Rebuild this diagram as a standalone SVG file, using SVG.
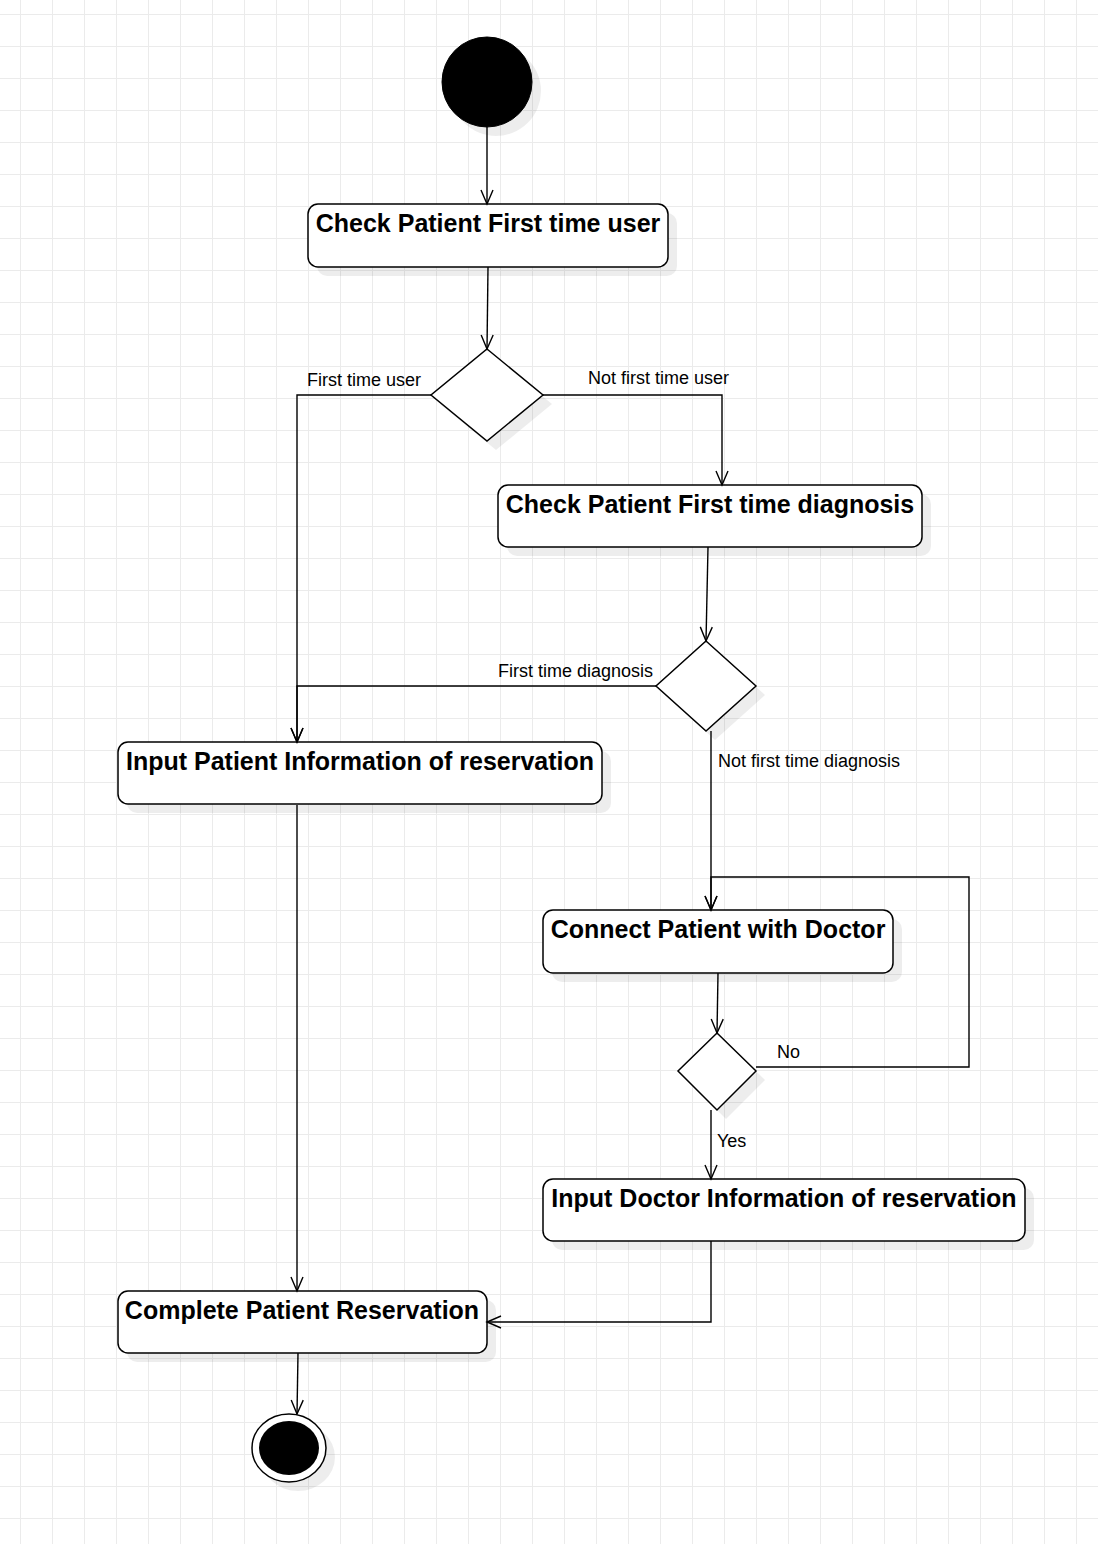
<svg xmlns="http://www.w3.org/2000/svg" width="1098" height="1544" viewBox="0 0 1098 1544">
<defs>
<pattern id="grid" x="20" y="14" width="32" height="32" patternUnits="userSpaceOnUse">
<path d="M0.5,0 L0.5,32 M0,0.5 L32,0.5" fill="none" stroke="#ebebeb" stroke-width="1"/>
</pattern>
<marker id="arr" markerUnits="userSpaceOnUse" markerWidth="24" markerHeight="24" viewBox="-16 -12 24 24" refX="0" refY="0" orient="auto" overflow="visible">
<path d="M-14,-6 L0,0 L-14,6" fill="none" stroke="#000" stroke-width="1.4"/>
</marker>
<style>
.node{fill:#fff;stroke:#000;stroke-width:1.5}
.shadow{fill:#000;fill-opacity:0.07;stroke:none}
.title{font-family:"Liberation Sans",Arial,sans-serif;font-size:25px;font-weight:bold;fill:#000;text-anchor:middle}
.lbl{font-family:"Liberation Sans",Arial,sans-serif;font-size:18px;fill:#000}
.edge{fill:none;stroke:#000;stroke-width:1.4;marker-end:url(#arr)}
</style>
</defs>
<rect x="0" y="0" width="1098" height="1544" fill="#fff"/>
<rect x="0" y="0" width="1098" height="1544" fill="url(#grid)"/>

<g id="start">
<circle class="shadow" cx="496" cy="91" r="45"/>
<circle cx="487" cy="82" r="45" fill="#000" stroke="#000" stroke-width="1"/>
</g>

<g id="checkUser">
<rect class="shadow" x="317" y="213" width="360" height="63" rx="10"/>
<rect class="node" x="308" y="204" width="360" height="63" rx="10"/>
<text class="title" x="488" y="232">Check Patient First time user</text>
</g>

<g id="decisionUser">
<polygon class="shadow" points="496,358 552,404 496,450 440,404"/>
<polygon class="node" points="487,349 543,395 487,441 431,395"/>
</g>

<g id="checkDiagnosis">
<rect class="shadow" x="507" y="494" width="424" height="62" rx="10"/>
<rect class="node" x="498" y="485" width="424" height="62" rx="10"/>
<text class="title" x="710" y="513">Check Patient First time diagnosis</text>
</g>

<g id="decisionDiagnosis">
<polygon class="shadow" points="715,650 765,695 715,740 665,695"/>
<polygon class="node" points="706,641 756,686 706,731 656,686"/>
</g>

<g id="inputPatient">
<rect class="shadow" x="127" y="751" width="484" height="62" rx="10"/>
<rect class="node" x="118" y="742" width="484" height="62" rx="10"/>
<text class="title" x="360" y="770">Input Patient Information of reservation</text>
</g>

<g id="connectDoctor">
<rect class="shadow" x="552" y="919" width="350" height="63" rx="10"/>
<rect class="node" x="543" y="910" width="350" height="63" rx="10"/>
<text class="title" x="718" y="938">Connect Patient with Doctor</text>
</g>

<g id="decisionConnected">
<polygon class="shadow" points="726,1042 765,1080 726,1119 687,1080"/>
<polygon class="node" points="717,1033 756,1071 717,1110 678,1071"/>
</g>

<g id="inputDoctor">
<rect class="shadow" x="552" y="1188" width="482" height="62" rx="10"/>
<rect class="node" x="543" y="1179" width="482" height="62" rx="10"/>
<text class="title" x="784" y="1207">Input Doctor Information of reservation</text>
</g>

<g id="complete">
<rect class="shadow" x="127" y="1300" width="369" height="62" rx="10"/>
<rect class="node" x="118" y="1291" width="369" height="62" rx="10"/>
<text class="title" x="302" y="1319">Complete Patient Reservation</text>
</g>

<g id="end">
<ellipse class="shadow" cx="298" cy="1457" rx="37" ry="34"/>
<ellipse cx="289" cy="1448" rx="37" ry="34" fill="#fff" stroke="#000" stroke-width="1.5"/>
<ellipse cx="289" cy="1448" rx="30" ry="27" fill="#000"/>
</g>

<g id="connectors">
<path class="edge" d="M487,127 L487,204"/>
<path class="edge" d="M488,267 L487,349"/>
<path class="edge" d="M431,395 L297,395 L297,742"/>
<path class="edge" d="M543,395 L722,395 L722,485"/>
<path class="edge" d="M708,547 L706,641"/>
<path class="edge" d="M656,686 L297,686 L297,742"/>
<path class="edge" d="M711,731 L711,910"/>
<path class="edge" d="M718,973 L717,1033"/>
<path class="edge" d="M756,1067 L969,1067 L969,877 L711,877 L711,910"/>
<path class="edge" d="M711,1110 L711,1179"/>
<path class="edge" d="M711,1241 L711,1322 L487,1322"/>
<path class="edge" d="M297,805 L297,1291"/>
<path class="edge" d="M298,1353 L297,1414"/>
</g>

<g id="labels">
<text class="lbl" x="307" y="386">First time user</text>
<text class="lbl" x="588" y="384">Not first time user</text>
<text class="lbl" x="498" y="677">First time diagnosis</text>
<text class="lbl" x="718" y="767">Not first time diagnosis</text>
<text class="lbl" x="777" y="1058">No</text>
<text class="lbl" x="717" y="1147">Yes</text>
</g>
</svg>
